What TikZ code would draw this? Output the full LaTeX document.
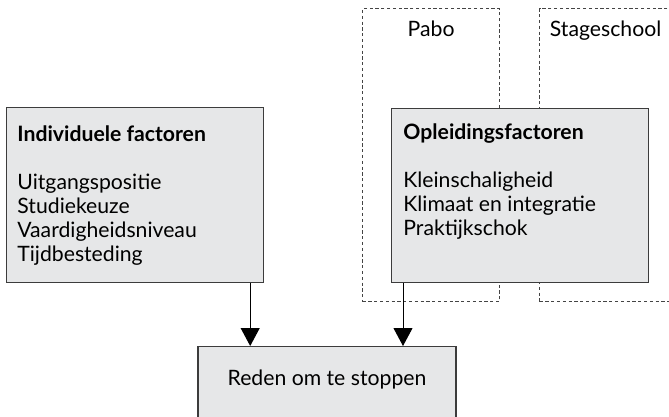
\documentclass[tikz,border=0pt]{standalone}
\usepackage{fontspec}
\setmainfont{Lato}
\usetikzlibrary{arrows.meta,calc}
\definecolor{boxfill}{HTML}{E6E7E8}
\definecolor{boxline}{HTML}{3C3C3C}
\definecolor{dashline}{HTML}{444444}

\begin{document}
\begin{tikzpicture}[x=0.5pt,y=-0.5pt,
  every node/.style={font=\fontsize{10.6}{12}\selectfont},
  factorbox/.style={draw=boxline,fill=boxfill,line width=0.6pt,
    anchor=north west,inner sep=0pt},
  groupbox/.style={draw=dashline,line width=0.6pt,
    dash pattern=on 1.6pt off 1.3pt,anchor=north west,inner sep=0pt},
  factortext/.style={anchor=north west,inner sep=0pt,align=left},
  arr/.style={line width=0.5pt,-{Triangle[width=9.5pt,length=9pt]}}]
\useasboundingbox (0,0) rectangle (669,417);
\clip (0,0) rectangle (669,417);

\node (pabo) [groupbox,minimum width=68.5pt,minimum height=146.5pt] at (362,8) {};
\node (stage) [groupbox,minimum width=66pt,minimum height=146.5pt] at (539,8) {};
\node (pabolbl) [anchor=base] at ([yshift=-14.5pt]pabo.north) {Pabo};
\node (stagelbl) [anchor=base] at ([yshift=-14.5pt]stage.north) {Stageschool};

\node (indiv) [factorbox,minimum width=128.5pt,minimum height=87.5pt] at (6,107) {};
\node (indivtxt) [factortext] at ([xshift=5.5pt,yshift=-9.3pt]indiv.north west)
  {\textbf{Individuele factoren}\\[12pt]
   Uitgangspositie\\Studiekeuze\\Vaardigheidsniveau\\Tijdbesteding};

\node (opl) [factorbox,minimum width=128.5pt,minimum height=87pt] at (391,108) {};
\node (opltxt) [factortext] at ([xshift=6pt,yshift=-7.8pt]opl.north west)
  {\textbf{Opleidingsfactoren}\\[12pt]
   Kleinschaligheid\\Klimaat en integratie\\Praktijkschok};

\node (reden) [factorbox,anchor=north,minimum width=129pt,inner ysep=12pt,
  text height=7.5pt,text depth=25pt] at (327,346) {Reden om te stoppen};

\draw[arr] ([xshift=-7pt]indiv.south east) -- ([xshift=-7pt]indiv.south east |- reden.north);
\draw[arr] ([xshift=6pt]opl.south west) -- ([xshift=6pt]opl.south west |- reden.north);
\end{tikzpicture}
\end{document}
